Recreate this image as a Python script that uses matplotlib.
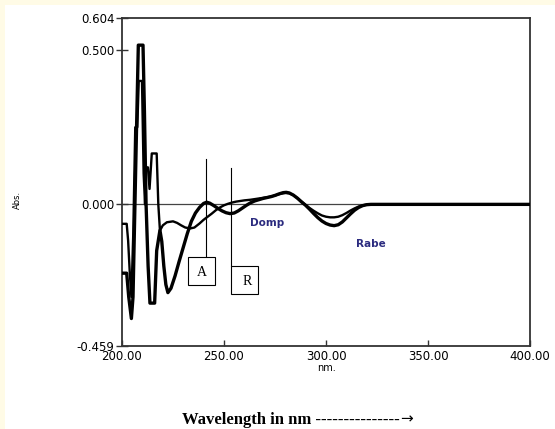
import numpy as np
import matplotlib.pyplot as plt
from matplotlib.patches import Rectangle

# spectrum A (deep minimum near 222 nm)
wl_a = [200.0, 202.3, 203.3, 204.6, 205.4, 206.5, 207.3, 208.0, 210.3, 211.0,
        211.8, 212.8, 213.7, 216.0, 217.0, 218.6, 219.5, 220.5, 221.5, 222.5,
        224, 226, 228, 230, 232, 234,
        236, 238, 240, 241.5, 243, 245, 247, 249, 251, 253,
        255, 257, 259, 261, 263, 265, 267, 269, 271, 273,
        275, 277, 279, 280.5, 282, 284, 286, 288, 290, 292,
        294, 296, 298, 300, 302, 304, 306, 308, 310, 312,
        314, 316, 318, 320, 322, 350, 400]
abs_a = [-0.223, -0.223, -0.30, -0.37, -0.30, 0.05, 0.30, 0.516, 0.516, 0.30,
         0.0, -0.20, -0.32, -0.32, -0.15, -0.084, -0.12, -0.20, -0.26, -0.286,
         -0.272, -0.232, -0.185, -0.14, -0.095, -0.055,
         -0.028, -0.01, 0.003, 0.007, 0.004, -0.004, -0.013, -0.021, -0.027, -0.030,
         -0.028, -0.021, -0.012, -0.003, 0.005, 0.011, 0.015, 0.019, 0.022, 0.025,
         0.029, 0.034, 0.038, 0.039, 0.037, 0.030, 0.020, 0.008, -0.003, -0.016,
         -0.030, -0.043, -0.054, -0.062, -0.067, -0.069, -0.066, -0.057, -0.044, -0.031,
         -0.019, -0.010, -0.004, -0.001, 0.0, 0.0, 0.0]

# spectrum R (shallow minimum near 234 nm)
wl_r = [200.0, 202.3, 203.0, 203.8, 204.6, 205.5, 206.5, 207.5, 208.2, 209.8,
        210.6, 211.3, 211.6, 212.7, 213.5, 214.6, 217.0, 217.8, 218.6,
        220, 222, 225, 227, 229, 231, 233.5, 235.5, 238, 240,
        242, 244, 246, 248, 250, 252, 254, 256, 258, 260,
        263, 266, 269, 272, 274, 276, 278, 280, 282, 284,
        286, 288, 290, 292, 294, 296, 298, 300, 302, 304,
        306, 308, 310, 312, 314, 316, 318, 320, 322, 350, 400]
abs_r = [-0.063, -0.063, -0.117, -0.22, -0.30, -0.10, 0.25, 0.25, 0.40, 0.40,
         0.10, 0.0, 0.12, 0.12, 0.05, 0.165, 0.165, 0.0, -0.085,
         -0.068, -0.058, -0.055, -0.060, -0.068, -0.075, -0.078, -0.075, -0.062, -0.050,
         -0.040, -0.030, -0.019, -0.010, -0.003, 0.002, 0.006, 0.009, 0.011, 0.013,
         0.015, 0.018, 0.021, 0.024, 0.027, 0.031, 0.035, 0.037, 0.036, 0.030,
         0.020, 0.009, -0.002, -0.012, -0.021, -0.029, -0.036, -0.040, -0.042, -0.042,
         -0.040, -0.035, -0.028, -0.020, -0.013, -0.007, -0.003, -0.001, 0.0, 0.0, 0.0]

y_ticks = [-0.459, 0.000, 0.500, 0.604]
y_ticklabels = ["-0.459", "0.000", "0.500", "0.604"]
x_ticks = [200, 250, 300, 350, 400]
x_ticklabels = ["200.00", "250.00", "300.00", "350.00", "400.00"]

fig = plt.figure(figsize=(5.55, 4.29), dpi=100, facecolor="#fffbe6")
fig.patches.append(Rectangle((5 / 555, 0), 1, 1 - 5 / 429, transform=fig.transFigure,
                             facecolor="white", edgecolor="none", zorder=-1))
ax = fig.add_axes([122 / 555, 1 - 346 / 429, 408 / 555, 328 / 429])
ax.set_facecolor("white")

ax.axhline(0, color="#444444", lw=0.9, zorder=1)
ax.plot(wl_r, abs_r, color="black", lw=1.7, zorder=3)
ax.plot(wl_a, abs_a, color="black", lw=2.4, zorder=3)

ax.set_xlim(200, 400)
ax.set_ylim(-0.459, 0.604)
ax.set_xticks(x_ticks)
ax.set_xticklabels(x_ticklabels)
ax.set_yticks(y_ticks)
ax.set_yticklabels(y_ticklabels)
ax.tick_params(axis="x", direction="in", length=4, width=1, pad=3, labelsize=8.5, color="#333333")
ax.tick_params(axis="y", direction="inout", length=9, width=1, pad=1, labelsize=8.5, color="#333333")
for s in ax.spines.values():
    s.set_color("#333333")
    s.set_linewidth(1.3)
ax.set_xlabel("nm.", fontsize=7, labelpad=0)

# marker lines and boxes
ax.plot([241.0, 241.0], [0.146, -0.172], color="black", lw=0.8)
ax.add_patch(Rectangle((232.4, -0.260), 13.2, 0.088, facecolor="white", edgecolor="black", lw=0.8, zorder=4))
ax.text(239.0, -0.220, "A", family="Liberation Serif", fontsize=10, ha="center", va="center", zorder=5)
ax.plot([253.3, 253.3], [0.117, -0.201], color="black", lw=0.8)
ax.add_patch(Rectangle((253.4, -0.289), 13.3, 0.088, facecolor="white", edgecolor="black", lw=0.8, zorder=4))
ax.text(261.5, -0.250, "R", family="Liberation Serif", fontsize=10, ha="center", va="center", zorder=5)

ax.text(271, -0.060, "Domp", color="#2b2b7f", fontsize=7.5, fontweight="bold", ha="center", va="center")
ax.text(322, -0.128, "Rabe", color="#2b2b7f", fontsize=7.5, fontweight="bold", ha="center", va="center")

fig.text(17 / 555, 1 - 200 / 429, "Abs.", rotation=90, fontsize=6, ha="center", va="center")
xl = fig.text(182 / 555, 1 - 420 / 429, "Wavelength in nm ---------------",
              family="Liberation Serif", fontweight="bold", fontsize=12,
              ha="left", va="center")
ax.annotate("\u2192", xy=(1.0, 0.56), xycoords=xl, ha="left", va="center",
            family="DejaVu Sans", fontsize=11, annotation_clip=False)

fig.savefig("out.png", dpi=100, facecolor=fig.get_facecolor())
